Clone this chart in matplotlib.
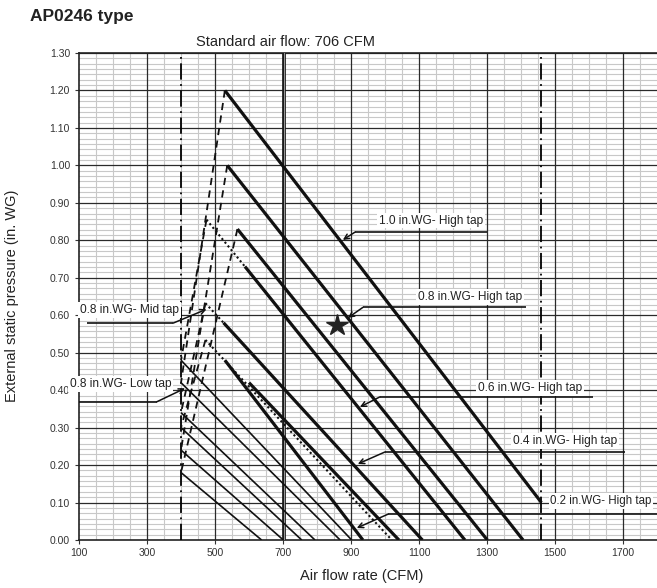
import matplotlib
matplotlib.use("Agg")
import matplotlib.pyplot as plt
import numpy as np

plt.rcParams['font.family'] = ['Liberation Sans', 'DejaVu Sans']

# ---------------- data ----------------
x_tick_values = [100, 300, 500, 700, 900, 1100, 1300, 1500, 1700]
y_tick_values = [0.0, 0.1, 0.2, 0.3, 0.4, 0.5, 0.6, 0.7, 0.8, 0.9, 1.0, 1.1, 1.2, 1.3]
standard_flow = 706
limit_flows = [400, 1460]

# thick solid lines (start -> end)
thick_x0 = [529, 536, 566, 588, 525, 529, 600]
thick_y0 = [1.20, 1.00, 0.83, 0.73, 0.58, 0.48, 0.42]
thick_x1 = [1460, 1406, 1301, 1235, 1110, 935, 1041]
thick_y1 = [0.10, 0.00, 0.00, 0.00, 0.00, 0.00, 0.00]

# thin solid lines starting on the minimum-flow line
thin_x0 = [400, 400, 400, 400, 400, 400]
thin_y0 = [0.48, 0.42, 0.34, 0.30, 0.24, 0.18]
thin_x1 = [902, 868, 794, 755, 701, 637]
thin_y1 = [0.0, 0.0, 0.0, 0.0, 0.0, 0.0]

# dotted lines
dotted_x0 = [475, 472, 472]
dotted_y0 = [0.855, 0.632, 0.534]
dotted_x1 = [588, 525, 1020]
dotted_y1 = [0.73, 0.58, 0.00]

# dashed boundary lines
dashed_x0 = [529, 536, 566, 475, 472, 472]
dashed_y0 = [1.20, 1.00, 0.83, 0.855, 0.632, 0.534]
dashed_x1 = [400, 400, 400, 400, 400, 400]
dashed_y1 = [0.42, 0.24, 0.18, 0.48, 0.34, 0.30]

# operating point
star_x = [858]
star_y = [0.574]

# labels
label_texts = ["1.0 in.WG- High tap", "0.8 in.WG- High tap", "0.6 in.WG- High tap",
               "0.4 in.WG- High tap", "0.2 in.WG- High tap",
               "0.8 in.WG- Mid tap", "0.8 in.WG- Low tap"]
arrow_tip_x = [876, 891, 926, 920, 917, 475, 412]
arrow_tip_y = [0.801, 0.593, 0.355, 0.203, 0.032, 0.616, 0.405]

# ---------------- layout ----------------
text_pos = [(1135, 0.852, 'center'), (1250, 0.649, 'center'), (1426, 0.406, 'center'),
            (1529, 0.264, 'center'), (1486, 0.104, 'left'),
            (103, 0.614, 'left'), (73, 0.416, 'left')]
text_size = [8.6, 8.6, 8.6, 8.6, 8.3, 8.6, 8.6]
leader_y = [0.822, 0.621, 0.382, 0.235, 0.069, 0.579, 0.369]
leader_far = [1300, 1415, 1612, 1706, 1800, 123, 100]
leader_near = [912, 935, 985, 1000, 1009, 377, 329]

W, H = 657, 588
fig = plt.figure(figsize=(W / 100, H / 100), dpi=100)
ax = fig.add_axes([79 / W, 48 / H, 578 / W, 487 / H])
ax.set_xlim(100, 1800)
ax.set_ylim(0, 1.30)

light = '#c8c8c8'
dark = '#2a2a2a'
for xv in np.arange(150, 1800, 50):
    if (xv - 100) % 200 == 0:
        continue
    ax.axvline(xv, color=light, lw=0.8, zorder=1)
for k in range(1, 91):
    yv = k * 0.1 / 7
    if k % 7 == 0:
        continue
    ax.axhline(yv, color=light, lw=0.8, zorder=1)
for xv in range(300, 1800, 200):
    if xv == 700:
        continue
    ax.axvline(xv, color=dark, lw=0.9, zorder=2)
for yv in y_tick_values[1:]:
    ax.axhline(yv, color=dark, lw=0.9, zorder=2)

# standard air flow (double line) and flow limits
ax.axvline(standard_flow - 2, color='#1a1a1a', lw=2.7, zorder=3)
ax.axvline(standard_flow - 2, color='#b0b0b0', lw=0.6, zorder=3)
for xv in limit_flows:
    ax.axvline(xv, color='black', lw=1.3, zorder=3, linestyle=(0, (9, 2.5, 1, 2.5)))

for x0, y0, x1, y1 in zip(thin_x0, thin_y0, thin_x1, thin_y1):
    ax.plot([x0, x1], [y0, y1], color='#111111', lw=1.2, zorder=4, solid_capstyle='butt')
for x0, y0, x1, y1 in zip(thick_x0, thick_y0, thick_x1, thick_y1):
    ax.plot([x0, x1], [y0, y1], color='#111111', lw=2.3, zorder=5, solid_capstyle='butt')
for x0, y0, x1, y1 in zip(dotted_x0, dotted_y0, dotted_x1, dotted_y1):
    ax.plot([x0, x1], [y0, y1], color='#111111', lw=1.5, zorder=4, linestyle=(0, (1, 1.3)))
for x0, y0, x1, y1 in zip(dashed_x0, dashed_y0, dashed_x1, dashed_y1):
    ax.plot([x0, x1], [y0, y1], color='#111111', lw=1.3, zorder=4, linestyle=(0, (4, 3)))

ax.plot(star_x, star_y, marker='*', color='#222222', markersize=16, linestyle='none', zorder=6)

# labels with leaders
for i, txt in enumerate(label_texts):
    tx, ty, ha = text_pos[i]
    ax.text(tx, ty, txt, ha=ha, va='center', fontsize=text_size[i], color='#222222', zorder=8,
            clip_on=False,
            bbox=dict(facecolor='white', edgecolor='none', pad=1.2))
    ax.plot([leader_far[i], leader_near[i]], [leader_y[i], leader_y[i]], color='#111111',
            lw=1.2, zorder=7, clip_on=False, solid_capstyle='butt')
    ax.annotate('', xy=(arrow_tip_x[i], arrow_tip_y[i]), xytext=(leader_near[i], leader_y[i]),
                arrowprops=dict(arrowstyle='->', color='#111111', lw=1.1, mutation_scale=9,
                                shrinkA=0, shrinkB=0), zorder=7)

ax.set_xticks(x_tick_values)
ax.set_xticklabels([str(v) for v in x_tick_values])
ax.set_yticks(y_tick_values)
ax.set_yticklabels(['%.2f' % v for v in y_tick_values])
ax.tick_params(axis='both', direction='out', length=3, width=0.8, colors='#333333',
               labelsize=7.5, labelcolor='#333333')
ax.tick_params(axis='x', pad=3)
for s in ['left', 'bottom', 'top']:
    ax.spines[s].set_color('#222222')
    ax.spines[s].set_linewidth(1.2)
ax.spines['right'].set_visible(False)
ax.grid(False)

ax.text(standard_flow, 1.33, 'Standard air flow: 706 CFM', ha='center', va='center',
        fontsize=10.5, color='#222222', clip_on=False)
fig.text(30 / W, 1 - 16 / H, 'AP0246 type', ha='left', va='center', fontsize=12.5,
         fontweight='bold', color='#222222')
fig.text(362 / W, 1 - 576 / H, 'Air flow rate (CFM)', ha='center', va='center',
         fontsize=10.5, color='#222222')
fig.text(12 / W, 1 - 296 / H, 'External static pressure (in. WG)', ha='center', va='center',
         rotation=90, fontsize=10.5, color='#222222')

fig.savefig('out.png', dpi=100)
